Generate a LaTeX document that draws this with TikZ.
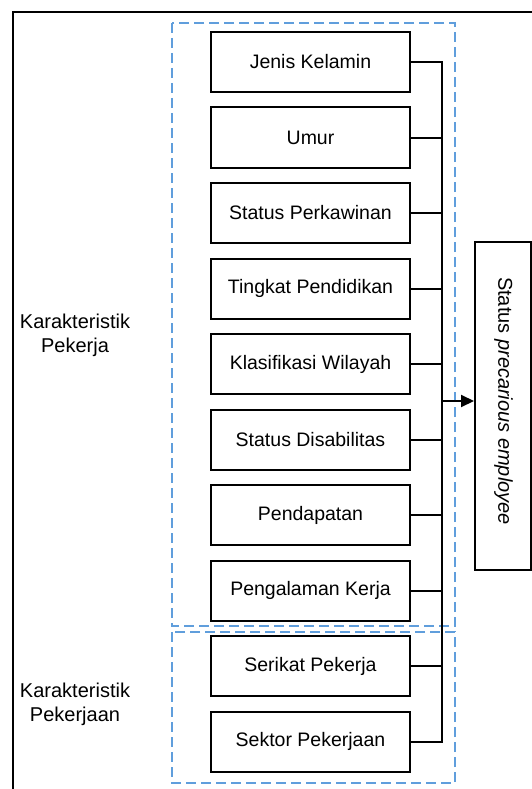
\documentclass[tikz,border=0pt]{standalone}
\usepackage{fontspec}
\setmainfont{Liberation Sans}
\usetikzlibrary{arrows.meta}
\definecolor{grpblue}{RGB}{96,158,220}
\begin{document}
\begin{tikzpicture}[x=1pt,y=-1pt,
  varbox/.style={draw=black,line width=2pt,minimum width=199pt,minimum height=60pt,inner sep=0pt,font=\fontsize{19.5pt}{23pt}\selectfont},
  grpbox/.style={draw=grpblue,line width=2.8pt,dash pattern=on 10pt off 5pt},
  conn/.style={line width=2pt},
  grplabel/.style={align=center,font=\fontsize{20pt}{24pt}\selectfont}]
\useasboundingbox (0,0) rectangle (532,789);
% outer frame (top and left edges)
\draw[line width=2pt] (12.5,789) -- (12.5,12) -- (532,12);
% group boxes
\draw[grpbox] (172,23) rectangle (455,626);
\draw[grpbox] (172,632) rectangle (455,783);
% variable boxes
\node[varbox] (n1) at (310.5,62) {Jenis Kelamin};
\node[varbox] (n2) at (310.5,137.5) {Umur};
\node[varbox] (n3) at (310.5,213) {Status Perkawinan};
\node[varbox] (n4) at (310.5,288.5) {Tingkat Pendidikan};
\node[varbox] (n5) at (310.5,364) {Klasifikasi Wilayah};
\node[varbox] (n6) at (310.5,439.5) {Status Disabilitas};
\node[varbox] (n7) at (310.5,515) {Pendapatan};
\node[varbox] (n8) at (310.5,590.5) {Pengalaman Kerja};
\node[varbox] (n9) at (310.5,666) {Serikat Pekerja};
\node[varbox] (n10) at (310.5,741.5) {Sektor Pekerjaan};
% outcome box
\node[draw=black,line width=2pt,minimum width=56pt,minimum height=328pt,inner sep=0pt] (out) at (503,406) {};
\node[rotate=-90,font=\fontsize{20pt}{24pt}\selectfont] (outtxt) at (503.5,401) {Status \textit{precarious employee}};
% group labels
\node[grplabel] (g1) at (75,335) {Karakteristik\\Pekerja};
\node[grplabel] (g2) at (75,704) {Karakteristik\\Pekerjaan};
% connectors
\coordinate (bus) at (442,0);
\foreach \i in {1,...,10} {\draw[conn] (n\i.east) -- (n\i.east -| bus);}
\draw[conn,line cap=rect] (n1.east -| bus) -- (n10.east -| bus);
\coordinate (j) at (442,401);
\draw[conn,-{Triangle[length=13pt,width=12pt]}] (j) -- (j -| out.west);
\end{tikzpicture}
\end{document}
